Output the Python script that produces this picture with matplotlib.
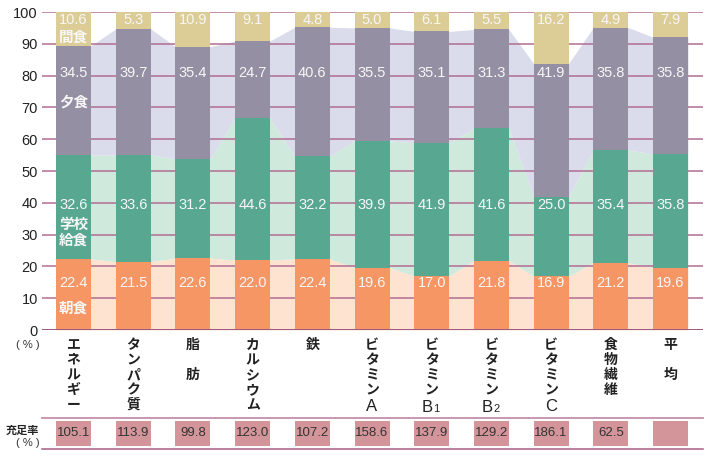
import matplotlib
matplotlib.use("Agg")
import matplotlib.pyplot as plt
import matplotlib.transforms as mtransforms
import numpy as np

plt.rcParams['font.family'] = ['Liberation Sans', 'Noto Sans CJK JP', 'DejaVu Sans']

categories = [["エ", "ネ", "ル", "ギ", "ー"],
              ["タ", "ン", "パ", "ク", "質"],
              ["脂", "", "肪"],
              ["カ", "ル", "シ", "ウ", "ム"],
              ["鉄"],
              ["ビ", "タ", "ミ", "ン", "A"],
              ["ビ", "タ", "ミ", "ン", "B1"],
              ["ビ", "タ", "ミ", "ン", "B2"],
              ["ビ", "タ", "ミ", "ン", "C"],
              ["食", "物", "繊", "維"],
              ["平", "", "均"]]
breakfast = [22.4, 21.5, 22.6, 22.0, 22.4, 19.6, 17.0, 21.8, 16.9, 21.2, 19.6]
lunch = [32.6, 33.6, 31.2, 44.6, 32.2, 39.9, 41.9, 41.6, 25.0, 35.4, 35.8]
dinner = [34.5, 39.7, 35.4, 24.7, 40.6, 35.5, 35.1, 31.3, 41.9, 35.8, 35.8]
snack = [10.6, 5.3, 10.9, 9.1, 4.8, 5.0, 6.1, 5.5, 16.2, 4.9, 7.9]
sufficiency = [105.1, 113.9, 99.8, 123.0, 107.2, 158.6, 137.9, 129.2, 186.1, 62.5, None]
yticks = [0, 10, 20, 30, 40, 50, 60, 70, 80, 90, 100]
layer_names = ["朝食", "学校\n給食", "夕食", "間食"]

c_bf, c_lu, c_di, c_sn = "#f59664", "#58a891", "#948fa3", "#dccd97"
l_bf, l_lu, l_di = "#fde3d0", "#d0e9dd", "#dadbeb"
grid_c = "#b06a90"
box_c = "#d4959a"

W, H = 706, 461
fig = plt.figure(figsize=(W / 100, H / 100), dpi=100)
ax_l, ax_r, ax_t, ax_b = 42, 703, 12, 330
ax = fig.add_axes([ax_l / W, 1 - ax_b / H, (ax_r - ax_l) / W, (ax_b - ax_t) / H])

n = len(breakfast)
x = np.arange(n)
pitch = 59.7
x0px = 73.5
xmin = (ax_l - x0px) / pitch
xmax = (ax_r - x0px) / pitch
ax.set_xlim(xmin, xmax)
ax.set_ylim(0, 100)
w = 35 / pitch

bf = np.array(breakfast)
lu = np.array(lunch)
di = np.array(dinner)
sn = np.array(snack)
b1 = bf
b2 = bf + lu
b3 = 100 - sn  # the snack segment is stacked down from the 100% line

# connected light fills
xs = np.ravel(np.column_stack([x - w / 2, x + w / 2]))
rep = lambda a: np.repeat(a, 2)
ax.fill_between(xs, 0, rep(b1), color=l_bf, lw=0, zorder=1)
ax.fill_between(xs, rep(b1), rep(b2), color=l_lu, lw=0, zorder=1)
ax.fill_between(xs, rep(b2), rep(b3), color=l_di, lw=0, zorder=1)

for yv in yticks[1:]:
    ax.axhline(yv, color=grid_c, lw=1.2, zorder=2, alpha=0.9)
ax.axhline(0, color="#9b5a80", lw=1.4, zorder=4)

ax.bar(x, bf, w, color=c_bf, zorder=3, lw=0)
ax.bar(x, lu, w, bottom=b1, color=c_lu, zorder=3, lw=0)
ax.bar(x, b3 - b2, w, bottom=b2, color=c_di, zorder=3, lw=0)
ax.bar(x, sn, w, bottom=b3, color=c_sn, zorder=3, lw=0)

tc = "#f7f7f7"
fs = 10.5
for i in range(n):
    ax.text(x[i], 97.4, f"{sn[i]:.1f}", ha="center", va="center", color=tc, fontsize=fs, zorder=5)
    ax.text(x[i], 80.9, f"{di[i]:.1f}", ha="center", va="center", color=tc, fontsize=fs, zorder=5)
    ax.text(x[i], 39.3, f"{lu[i]:.1f}", ha="center", va="center", color=tc, fontsize=fs, zorder=5)
    ax.text(x[i], 14.7, f"{bf[i]:.1f}", ha="center", va="center", color=tc, fontsize=fs, zorder=5)

jp = ['Noto Sans CJK JP', 'DejaVu Sans']
kw = dict(ha="center", va="center", color=tc, fontsize=10.5, fontweight="bold", family=jp, zorder=5)
ax.text(x[0], 92.3, layer_names[3], **kw)
ax.text(x[0], 72.0, layer_names[2], **kw)
ax.text(x[0], 30.8, layer_names[1], linespacing=1.0, **kw)
ax.text(x[0], 7.0, layer_names[0], **kw)

ax.set_yticks(yticks)
ax.set_yticklabels([str(v) for v in yticks], fontsize=10.5, color="#222222")
ax.tick_params(axis="y", length=0, pad=3)
ax.set_xticks([])
for s in ax.spines.values():
    s.set_visible(False)

# figure-coordinate helper: x in data, y in pixels from top
trans = mtransforms.blended_transform_factory(ax.transData, fig.transFigure)
fy = lambda py: 1 - py / H

# category labels (vertical)
for i, chars in enumerate(categories):
    for j, ch in enumerate(chars):
        if ch == "":
            continue
        py = 345 + 15 * j
        if ch in ("A", "C"):
            fig.text(x[i], fy(py + 1), ch, transform=trans, ha="center", va="center",
                     fontsize=12, color="#222222", family=['Liberation Sans'])
        elif ch in ("B1", "B2"):
            fig.text(x[i] + 0.02, fy(py + 7), ch[0], transform=trans, ha="right", va="baseline",
                     fontsize=12, color="#222222", family=['Liberation Sans'])
            fig.text(x[i] + 0.03, fy(py + 7), ch[1], transform=trans, ha="left", va="baseline",
                     fontsize=8, color="#222222", family=['Liberation Sans'])
        else:
            fig.text(x[i], fy(py), ch, transform=trans, ha="center", va="center",
                     fontsize=10, fontweight="bold", color="#222222", family=jp)

fig.text(28 / W, fy(345), "( % )", ha="center", va="center", fontsize=8, color="#333333")

# sufficiency row
fig.add_artist(plt.Line2D([ax_l / W, ax_r / W], [fy(418), fy(418)], color="#c590ad", lw=1.3))
fig.add_artist(plt.Line2D([ax_l / W, ax_r / W], [fy(449), fy(449)], color="#a85c86", lw=1.1))
for i, v in enumerate(sufficiency):
    rect = plt.Rectangle((x[i] - w / 2, fy(446)), w, (446 - 421) / H, transform=trans,
                         color=box_c, lw=0)
    fig.add_artist(rect)
    if v is not None:
        fig.text(x[i], fy(433.5), f"{v:.1f}", transform=trans, ha="center", va="center",
                 fontsize=9.5, color="#333333")
fig.text(22 / W, fy(430), "充足率", ha="center", va="center", fontsize=8, fontweight="bold",
         color="#222222", family=jp)
fig.text(28 / W, fy(443), "( % )", ha="center", va="center", fontsize=8, color="#333333")

fig.savefig("out.png", dpi=100)
